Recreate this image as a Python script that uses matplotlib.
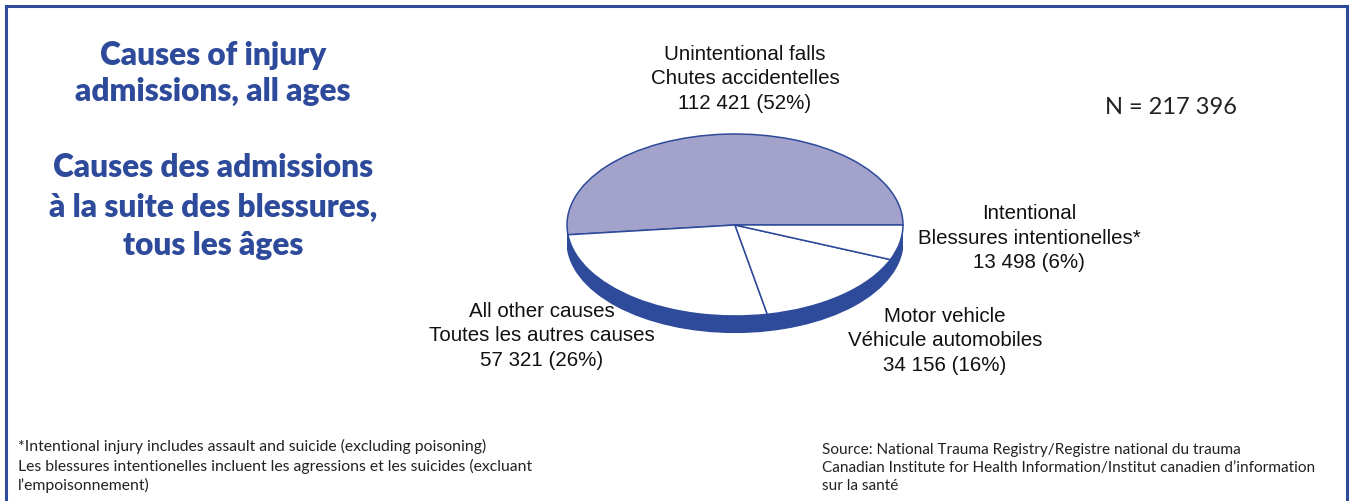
import matplotlib
matplotlib.use("Agg")
import matplotlib.pyplot as plt
from matplotlib.patches import Ellipse, Rectangle

# data
causes_en = ['Unintentional falls', 'All other causes', 'Motor vehicle', 'Intentional']
causes_fr = ['Chutes accidentelles', 'Toutes les autres causes', 'Véhicule automobiles',
             'Blessures intentionelles*']
counts = [112421, 57321, 34156, 13498]
percents = [52, 26, 16, 6]
total = 217396

blue = '#2E4A9A'
falls_color = '#A2A2CB'

fig = plt.figure(figsize=(13.53, 5.02), dpi=100)
W, H = 1353, 502

def fx(px):
    return px / W

def fy(py):
    return 1 - py / H

# frame (top, left, right; bottom cut off)
fig.add_artist(plt.Line2D([fx(6), fx(6)], [0, fy(7)], color=blue, lw=2.2))
fig.add_artist(plt.Line2D([fx(6), fx(1347)], [fy(7), fy(7)], color=blue, lw=2.2))
fig.add_artist(plt.Line2D([fx(1347), fx(1347)], [fy(7), 0], color=blue, lw=2.2))

# pie axes: x range maps to ellipse width, y to ellipse height
depth = 0.18
a_px, b_px = 168, 91
cx, cy = 735, 226
ax = fig.add_axes([fx(cx - a_px), fy(cy + b_px * (1 + depth + 0.02)),
                   2 * a_px / W, b_px * (2 + depth + 0.02) / H])
ax.set_xlim(-1, 1)
ax.set_ylim(-1 - depth - 0.02, 1)
ax.axis('off')

# cylinder side
ax.add_patch(Ellipse((0, -depth), 2, 2, facecolor=blue, edgecolor=blue, lw=1, zorder=1))
ax.add_patch(Rectangle((-1, -depth), 2, depth, facecolor=blue, edgecolor='none', zorder=1))

colors = [falls_color, 'white', 'white', 'white']
wedges, _ = ax.pie(counts, colors=colors, startangle=0, counterclock=True, radius=1,
                   wedgeprops=dict(edgecolor=blue, linewidth=1.1))
for w in wedges:
    w.set_zorder(2)
ax.set_aspect('auto')
ax.set_xlim(-1, 1)
ax.set_ylim(-1 - depth - 0.02, 1)

# slice labels (block centres)
label_pos = [(745, 79), (542, 336), (945, 341), (1029, 238)]
for en, fr, c, p, (lx, ly) in zip(causes_en, causes_fr, counts, percents, label_pos):
    num = f"{c:,}".replace(',', ' ')
    fig.text(fx(lx), fy(ly), f"{en}\n{fr}\n{num} ({p}%)", ha='center', va='center',
             fontsize=14.8, family='Liberation Sans', color='#111111', linespacing=1.37)

fig.text(fx(1105), fy(107), "N = " + f"{total:,}".replace(',', ' '), ha='left', va='center',
         fontsize=17, family='Lato', color='#222222')

# title
title_lines = [("Causes of injury", 55), ("admissions, all ages", 91),
               ("Causes des admissions", 168), ("à la suite des blessures,", 207),
               ("tous les âges", 246)]
for t, y in title_lines:
    fig.text(fx(213), fy(y), t, ha='center', va='center', fontsize=22.8,
             family='Lato', weight='heavy', color=blue)

# notes
foot = ("*Intentional injury includes assault and suicide (excluding poisoning)\n"
        "Les blessures intentionelles incluent les agressions et les suicides (excluant\n"
        "l’empoisonnement)")
fig.text(fx(18), fy(466), foot, ha='left', va='center', fontsize=11.3,
         family='Lato', color='#222222', linespacing=1.38)
src = ("Source: National Trauma Registry/Registre national du trauma\n"
       "Canadian Institute for Health Information/Institut canadien d’information\n"
       "sur la santé")
fig.text(fx(822), fy(468), src, ha='left', va='center', fontsize=11.1,
         family='Lato', color='#222222', linespacing=1.33)

fig.savefig('out.png', dpi=100)
